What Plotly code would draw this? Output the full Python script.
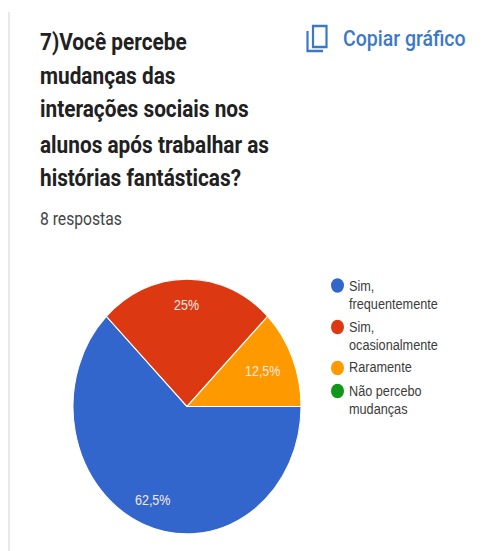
import math
import plotly.graph_objects as go

# Survey results
categories = ["Sim,<br>frequentemente", "Sim,<br>ocasionalmente", "Raramente", "Não percebo<br>mudanças"]
shares = [62.5, 25, 12.5, 0]
colors = ["#3366cc", "#dc3912", "#ff9900", "#109618"]
title_lines = [
    "7)Você percebe",
    "mudanças das",
    "interações sociais nos",
    "alunos após trabalhar as",
    "histórias fantásticas?",
]
subtitle = "8 respostas"
copy_label = "Copiar gráfico"

W, H = 494, 551
FIG_H = 493  # drawn at this height, then stretched to the window height


def px(x):
    return x / W


def py(y):
    return 1 - y / H


def fmt(v):
    return f"{v:g}".replace(".", ",") + "%"


def label(x, y, text, size, color, weight=400, anchor="left", family="Roboto"):
    return dict(
        x=px(x), y=py(y), xref="paper", yref="paper", text=text, showarrow=False,
        xanchor=anchor, yanchor="middle", align="left",
        font=dict(family=family, size=size, color=color, weight=weight),
    )


# Pie geometry: centre and radius in page pixels
cx, cy_page, r = 187, 406.5, 114
cy = cy_page * FIG_H / H
fig = go.Figure(
    go.Pie(
        labels=[c.replace("<br>", " ") for c in categories],
        values=shares,
        marker=dict(colors=colors, line=dict(color="white", width=1)),
        rotation=90,
        direction="clockwise",
        sort=False,
        textinfo="none",
        hoverinfo="label+percent",
        showlegend=False,
        domain=dict(
            x=[(cx - r) / W, (cx + r) / W],
            y=[1 - (cy + r) / FIG_H, 1 - (cy - r) / FIG_H],
        ),
    )
)

annotations = []
shapes = []

# Slice labels, placed along each slice's mid-angle
radial = {0: 0.80, 1: 0.80, 2: 0.72}
start = 90.0
for i, v in enumerate(shares):
    sweep = v * 3.6
    if v > 0:
        mid = math.radians(start + sweep / 2)
        lx = cx + radial[i] * r * math.sin(mid)
        ly = cy_page - radial[i] * r * math.cos(mid) * H / FIG_H
        annotations.append(
            label(lx, ly, fmt(v), 12.5, "#f3e9e4", anchor="center", family="Liberation Sans")
        )
    start += sweep

# Legend with round markers
legend_rows = [(285.5, 296), (327, 337), (368, 368), (391, 400.5)]
for (marker_y, text_y), cat, col in zip(legend_rows, categories, colors):
    rx, ry = 6.5, 6.5 * H / FIG_H
    shapes.append(dict(
        type="circle", xref="paper", yref="paper",
        x0=px(337.5 - rx), x1=px(337.5 + rx), y0=py(marker_y + ry), y1=py(marker_y - ry),
        fillcolor=col, line=dict(width=0),
    ))
    annotations.append(label(347, text_y, cat, 12.7, "#3c3c3c", family="Liberation Sans"))

# Heading block
for y, line in zip([43, 76, 110, 145, 178], title_lines):
    annotations.append(label(38, y, line, 20.8, "#212121", weight=700))
annotations.append(label(38, 219, subtitle, 15.7, "#444444"))
annotations.append(label(341, 38, copy_label, 19.5, "#3b78c9", weight=500))

# Copy icon
blue = "#3b78c9"
shapes.append(dict(
    type="rect", xref="paper", yref="paper",
    x0=px(313), x1=px(326.5), y0=py(47), y1=py(26),
    line=dict(color=blue, width=2.2),
))
shapes.append(dict(
    type="path", xref="paper", yref="paper",
    path=f"M {px(307.5)} {py(31)} L {px(307.5)} {py(51)} L {px(323)} {py(51)}",
    line=dict(color=blue, width=2.2),
))

# Left page rule
shapes.append(dict(
    type="line", xref="paper", yref="paper",
    x0=px(9), x1=px(9), y0=py(12), y1=0,
    line=dict(color="#e2e2e2", width=1.5),
))

fig.update_layout(
    width=W, height=FIG_H,
    margin=dict(l=0, r=0, t=0, b=0),
    paper_bgcolor="white",
    annotations=annotations,
    shapes=shapes,
)

stretch = (
    "var gd=document.getElementById('{plot_id}');"
    "document.body.style.overflow='hidden';"
    f"gd.style.transformOrigin='0 0';gd.style.transform='scale(1,{H / FIG_H})';"
)
fig.write_html("out.html", post_script=stretch, config=dict(displayModeBar=False))
